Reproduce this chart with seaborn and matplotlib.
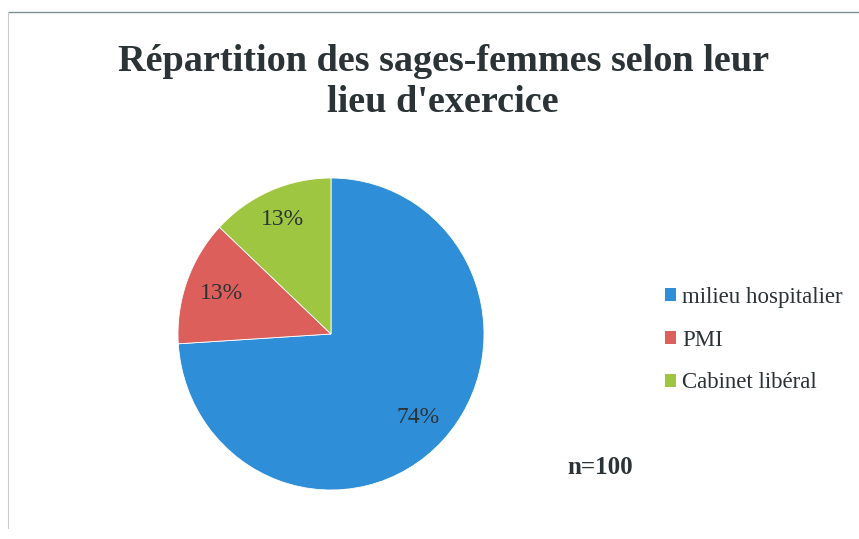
import matplotlib
matplotlib.use("Agg")
import matplotlib.pyplot as plt
import seaborn as sns
import numpy as np
from matplotlib.patches import Patch
from matplotlib.lines import Line2D

# data
categories = ["milieu hospitalier", "PMI", "Cabinet libéral"]
shares = [74, 13, 13]
pct_labels = ["74%", "13%", "13%"]
n_total = 100
title = "Répartition des sages-femmes selon leur\nlieu d'exercice"

sns.set_theme(style="white")
plt.rcParams["font.family"] = ["Liberation Serif", "DejaVu Serif"]

colors = ["#2f8ed8", "#dc5f5b", "#9fc640"]

fig = plt.figure(figsize=(8.59, 5.39), dpi=100)
fig.patch.set_facecolor("white")

# faint frame of the original chart area
fig.add_artist(Line2D([8 / 859, 1.0], [1 - 12 / 539, 1 - 12 / 539],
                      color="#7f8f96", lw=1.0))
fig.add_artist(Line2D([8 / 859, 8 / 859], [1 - 12 / 539, 0.02],
                      color="#c8ccd0", lw=0.8))

fig.text(0.516, 1 - 82 / 539, title, ha="center", va="center",
         fontsize=27.5, fontweight="bold", color="#2b3336", linespacing=1.25)

ax = fig.add_axes([178 / 859, 1 - 490 / 539, 306 / 859, 312 / 539])
wedges, _ = ax.pie(shares, colors=colors, startangle=90, counterclock=False,
                   wedgeprops=dict(linewidth=0.6, edgecolor="white"))
ax.set_aspect("auto")
ax.set_xlim(-1.0, 1.0)
ax.set_ylim(-1.0, 1.0)
ax.axis("off")

# label positions along each wedge
label_r = [0.78, 0.76, 0.80]
start = 90.0
for w, lab, r, share in zip(wedges, pct_labels, label_r, shares):
    mid = start - share * 3.6 / 2
    start -= share * 3.6
    ang = np.deg2rad(mid)
    ax.text(r * np.cos(ang), r * np.sin(ang), lab, ha="center", va="center",
            fontsize=17, color="#2b3336")

handles = [Patch(facecolor=c, edgecolor="none") for c in colors]
fig.legend(handles, categories, loc="center left",
           bbox_to_anchor=(644 / 859, 1 - 340 / 539), frameon=False,
           fontsize=16.5, handlelength=0.5, handleheight=0.5,
           handletextpad=0.25, labelspacing=0.95, labelcolor="#2b3336")

fig.text(600 / 859, 1 - 467 / 539, f"n={n_total}", ha="center", va="center",
         fontsize=18, fontweight="bold", color="#2b3336")

fig.savefig("out.png", dpi=100, facecolor="white")
